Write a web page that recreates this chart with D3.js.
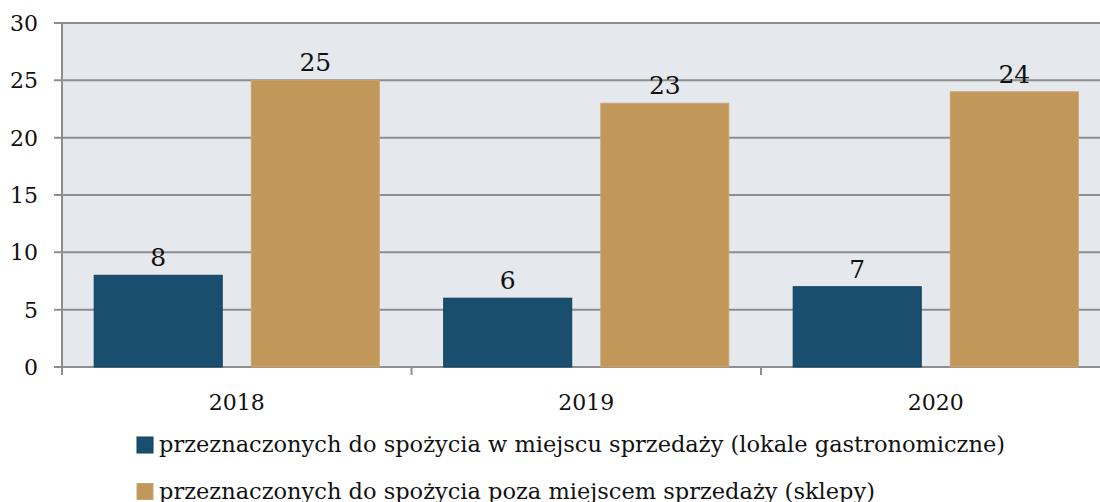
<!DOCTYPE html>
<html>
<head>
<meta charset="utf-8">
<script src="https://cdn.jsdelivr.net/npm/d3@7/dist/d3.min.js"></script>
<style>
  html, body { margin: 0; padding: 0; background: #ffffff; }
  svg { display: block; }
  text { font-family: "DejaVu Serif", "Liberation Serif", serif; fill: #111; }
</style>
</head>
<body>
<svg id="chart" width="1100" height="502"></svg>
<script>
// Years on the category axis
const years = ["2018", "2019", "2020"];
// Series names shown in the legend
const seriesNames = [
  "przeznaczonych do spożycia w miejscu sprzedaży (lokale gastronomiczne)",
  "przeznaczonych do spożycia poza miejscem sprzedaży (sklepy)"
];
// Values for each series, per year
const onPremise = [8, 6, 7];
const offPremise = [25, 23, 24];
// Y axis ticks
const yTicks = [0, 5, 10, 15, 20, 25, 30];

const colors = ["#1a4e6e", "#c1975a"];
const strokes = ["#0f3f5e", "#c8a470"];

const svg = d3.select("#chart");
const margin = { left: 62, top: 23, bottom: 367 };
const bandW = 349.5;

const x = d3.scaleBand().domain(years).range([margin.left, margin.left + bandW * years.length]);
const xs = d3.scaleBand().domain([0, 1]).range([0, x.bandwidth()]).paddingInner(0.185).paddingOuter(0.205);
const y = d3.scaleLinear().domain([0, 30]).range([margin.bottom, margin.top]);

// plot background
svg.append("rect")
  .attr("x", margin.left).attr("y", y(30))
  .attr("width", 1100 - margin.left).attr("height", y(0) - y(30))
  .attr("fill", "#e5e8ec");

// horizontal gridlines with small ticks left of the axis
svg.append("g")
  .selectAll("line").data(yTicks).join("line")
  .attr("x1", margin.left - 8).attr("x2", 1100)
  .attr("y1", d => y(d)).attr("y2", d => y(d))
  .attr("stroke", "#8e8e8e").attr("stroke-width", 2);

// y axis line
svg.append("line")
  .attr("x1", margin.left).attr("x2", margin.left)
  .attr("y1", y(30)).attr("y2", y(0) + 8)
  .attr("stroke", "#8e8e8e").attr("stroke-width", 2);

// category tick marks below the axis
svg.append("g")
  .selectAll("line").data(years.slice(1)).join("line")
  .attr("x1", d => x(d)).attr("x2", d => x(d))
  .attr("y1", y(0)).attr("y2", y(0) + 8)
  .attr("stroke", "#8e8e8e").attr("stroke-width", 2);

// y tick labels
svg.append("g")
  .selectAll("text").data(yTicks).join("text")
  .attr("x", 38).attr("y", d => y(d) + 8)
  .attr("text-anchor", "end")
  .attr("font-size", 22)
  .text(d => d);

// bars with value labels
const series = [onPremise, offPremise];
series.forEach((vals, si) => {
  const g = svg.append("g");
  g.selectAll("rect").data(vals).join("rect")
    .attr("x", (d, i) => x(years[i]) + xs(si))
    .attr("y", d => y(d))
    .attr("width", xs.bandwidth())
    .attr("height", d => y(0) - y(d))
    .attr("fill", colors[si])
    .attr("stroke", strokes[si]).attr("stroke-width", 1);
  g.selectAll("text").data(vals).join("text")
    .attr("x", (d, i) => x(years[i]) + xs(si) + xs.bandwidth() / 2)
    .attr("y", d => y(d) - 9)
    .attr("text-anchor", "middle")
    .attr("font-size", 25)
    .text(d => d);
});

// category labels
svg.append("g")
  .selectAll("text").data(years).join("text")
  .attr("x", d => x(d) + x.bandwidth() / 2)
  .attr("y", 410)
  .attr("text-anchor", "middle")
  .attr("font-size", 22)
  .text(d => d);

// legend
const legend = svg.append("g");
seriesNames.forEach((name, i) => {
  const ly = 437 + i * 46.5;
  legend.append("rect")
    .attr("x", 137).attr("y", ly).attr("width", 16).attr("height", 16)
    .attr("fill", colors[i]).attr("stroke", strokes[i]);
  legend.append("text")
    .attr("x", 159).attr("y", ly + 15)
    .attr("font-size", 22.5)
    .text(name);
});
</script>
</body>
</html>
